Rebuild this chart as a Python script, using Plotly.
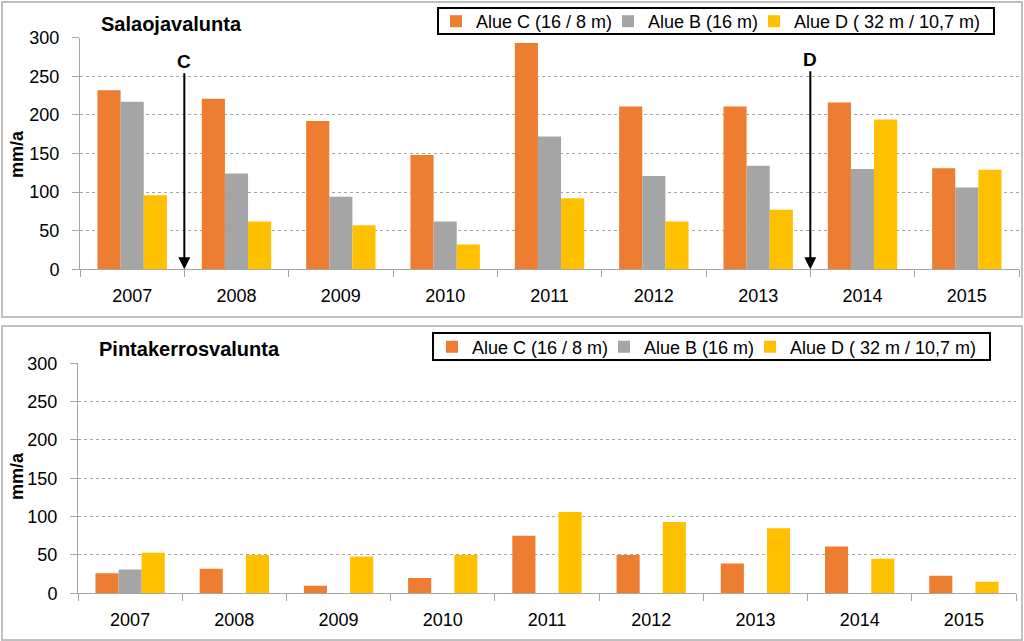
import plotly.graph_objects as go

years = ["2007", "2008", "2009", "2010", "2011", "2012", "2013", "2014", "2015"]
series_names = ["Alue C (16 / 8 m)", "Alue B (16 m)", "Alue D ( 32 m / 10,7 m)"]
colors = ["#ED7D31", "#A5A5A5", "#FFC000"]

# Salaojavalunta (top)
top_C = [232, 221, 192, 148, 293, 211, 211, 216, 131]
top_B = [217, 124, 94, 62, 172, 121, 134, 130, 106]
top_D = [96, 62, 57, 32, 92, 62, 77, 194, 129]

# Pintakerrosvalunta (bottom)
bot_C = [26, 32, 10, 20, 75, 50, 39, 61, 23]
bot_B = [31, None, None, None, None, None, None, None, None]
bot_D = [53, 50, 48, 50, 106, 93, 85, 45, 15]

W, H = 1024, 641
FONT = "Liberation Sans, Arial, sans-serif"

def py(p):  # pixel y -> paper
    return 1 - p / H

def px(p):
    return p / W

# one legend per entry so each entry can sit where the reference has it
top_legend_ids = ["legend", "legend2", "legend3"]
bot_legend_ids = ["legend4", "legend5", "legend6"]
top_text_x = [474, 646, 792]
bot_text_x = [470, 642, 788]

fig = go.Figure()
for name, col, vals, lg in zip(series_names, colors, [top_C, top_B, top_D], top_legend_ids):
    fig.add_trace(go.Bar(x=years, y=vals, name=name, marker_color=col,
                         marker_line_width=0, xaxis="x", yaxis="y", legend=lg))
for name, col, vals, lg in zip(series_names, colors, [bot_C, bot_B, bot_D], bot_legend_ids):
    fig.add_trace(go.Bar(x=years, y=vals, name=name, marker_color=col,
                         marker_line_width=0, xaxis="x2", yaxis="y2", legend=lg))

axis_common_x = dict(type="category", showline=True, linecolor="#A6A6A6", linewidth=1,
                     ticks="outside", tickson="boundaries", ticklen=7, tickcolor="#A6A6A6",
                     showgrid=False, tickfont=dict(size=18, color="#000000", family=FONT),
                     ticklabelstandoff=10, automargin=False, fixedrange=True)
axis_common_y = dict(range=[0, 300], tickvals=[0, 50, 100, 150, 200, 250, 300],
                     showline=True, linecolor="#A6A6A6", linewidth=1,
                     ticks="outside", ticklen=7, tickcolor="#A6A6A6",
                     showgrid=True, gridcolor="#A6A6A6", griddash="3px,3px", gridwidth=1,
                     zeroline=False, tickfont=dict(size=18, color="#000000", family=FONT),
                     ticklabelstandoff=9, automargin=False, fixedrange=True)

legend_common = dict(orientation="h", borderwidth=0,
                     bgcolor="rgba(0,0,0,0)", font=dict(size=18, family=FONT, color="#000000"),
                     xanchor="left", yanchor="top",
                     itemclick=False, itemdoubleclick=False)

legends = {}
for lg, tx in zip(top_legend_ids, top_text_x):
    legends[lg] = dict(x=px(tx - 38), y=py(3), **legend_common)
for lg, tx in zip(bot_legend_ids, bot_text_x):
    legends[lg] = dict(x=px(tx - 38), y=py(328.5), **legend_common)

fig.update_layout(
    template="none",
    width=W, height=H,
    margin=dict(l=0, r=0, t=0, b=0, pad=0, autoexpand=False),
    paper_bgcolor="white", plot_bgcolor="white",
    font=dict(family=FONT, size=18, color="#000000"),
    barmode="group", bargap=0.335, bargroupgap=0,
    xaxis=dict(domain=[px(80), px(1019)], anchor="y", **axis_common_x),
    yaxis=dict(domain=[py(269.3), py(37.7)], anchor="x", **axis_common_y),
    xaxis2=dict(domain=[px(78), px(1016)], anchor="y2", **axis_common_x),
    yaxis2=dict(domain=[py(593.3), py(363.3)], anchor="x2", **axis_common_y),
    showlegend=True,
    **legends,
)

shapes = [
    dict(type="rect", xref="paper", yref="paper", x0=px(2), x1=px(1022), y0=py(2), y1=py(317),
         line=dict(color="#BFBFBF", width=2), layer="below"),
    dict(type="rect", xref="paper", yref="paper", x0=px(2), x1=px(1022), y0=py(326), y1=py(640),
         line=dict(color="#BFBFBF", width=2), layer="below"),
    # legend frames
    dict(type="rect", xref="paper", yref="paper", x0=px(438), x1=px(994), y0=py(8), y1=py(34),
         line=dict(color="#000000", width=2), fillcolor="white", layer="above"),
    dict(type="rect", xref="paper", yref="paper", x0=px(433), x1=px(990), y0=py(333), y1=py(360),
         line=dict(color="#000000", width=2), fillcolor="white", layer="above"),
]
fig.update_layout(shapes=shapes)

annotations = [
    dict(text="<b>Salaojavalunta</b>", xref="paper", yref="paper", x=px(99), y=py(24),
         xanchor="left", yanchor="middle", showarrow=False, font=dict(size=20, family=FONT)),
    dict(text="<b>Pintakerrosvalunta</b>", xref="paper", yref="paper", x=px(97), y=py(349),
         xanchor="left", yanchor="middle", showarrow=False, font=dict(size=20, family=FONT)),
    dict(text="<b>mm/a</b>", xref="paper", yref="paper", x=px(17), y=py(154),
         xanchor="center", yanchor="middle", textangle=-90, showarrow=False,
         font=dict(size=18, family=FONT)),
    dict(text="<b>mm/a</b>", xref="paper", yref="paper", x=px(17), y=py(476),
         xanchor="center", yanchor="middle", textangle=-90, showarrow=False,
         font=dict(size=18, family=FONT)),
    dict(text="<b>C</b>", xref="x", yref="y", x=0.5, y=0, ax=0, ay=-208,
         showarrow=True, arrowhead=2, arrowsize=1.2, arrowwidth=2, arrowcolor="#000000",
         font=dict(size=19, family=FONT, color="#000000")),
    dict(text="<b>D</b>", xref="x", yref="y", x=6.5, y=0, ax=0, ay=-210,
         showarrow=True, arrowhead=2, arrowsize=1.2, arrowwidth=2, arrowcolor="#000000",
         font=dict(size=19, family=FONT, color="#000000")),
]
fig.update_layout(annotations=annotations)

fig.write_html("out.html", config={"displayModeBar": False},
               post_script="document.body.style.margin='0px';")
